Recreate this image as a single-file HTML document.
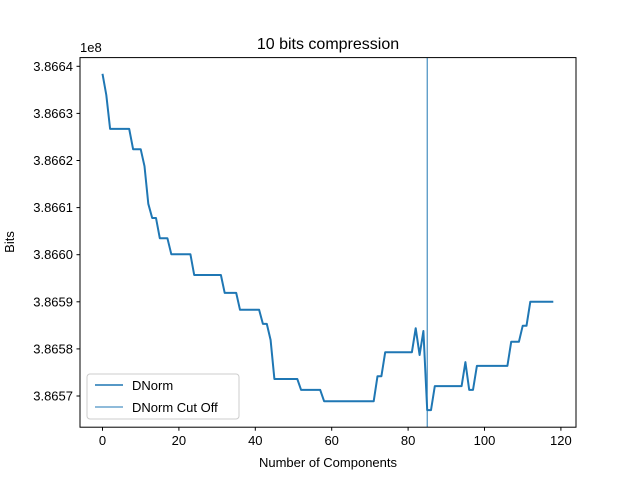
<!DOCTYPE html>
<html><head><meta charset="utf-8"><style>
body{margin:0;background:#fff;}
svg text{font-family:"Liberation Sans","DejaVu Sans",sans-serif;fill:#000;}
</style></head><body>
<svg width="640" height="480" xmlns="http://www.w3.org/2000/svg">
<rect width="640" height="480" fill="#fff"/>
<g id="grid"></g>
<g id="marks"></g>
<rect x="80" y="57.6" width="496" height="369.6" fill="none" stroke="#000" stroke-width="1"/>
<g id="axes"></g>
<text x="328" y="49" font-size="16" text-anchor="middle">10 bits compression</text>
<text x="328" y="467" font-size="13" text-anchor="middle">Number of Components</text>
<text transform="translate(14,242) rotate(-90)" font-size="13" text-anchor="middle">Bits</text>
<text x="80" y="52" font-size="13">1e8</text>
<g>
<rect x="87" y="374" width="152" height="45" rx="3" fill="#fff" fill-opacity="0.8" stroke="#ccc"/>
<line x1="95" y1="385" x2="123" y2="385" stroke="#1f77b4" stroke-width="1.5"/>
<text x="132" y="390" font-size="13">DNorm</text>
<line x1="95" y1="407" x2="123" y2="407" stroke="#1f77b4" stroke-width="1"/>
<text x="132" y="412" font-size="13">DNorm Cut Off</text>
</g>
</svg>
<script>
const xTicks=[0,20,40,60,80,100,120];
const yTicks=[3.8657,3.8658,3.8659,3.8660,3.8661,3.8662,3.8663,3.8664];
const yTickLabels=["3.8657","3.8658","3.8659","3.8660","3.8661","3.8662","3.8663","3.8664"];
const cutOff=85;
// values in units of 1e-4 above 3.8657 (x1e8)
const series=[6.84,6.39,5.67,5.67,5.67,5.67,5.67,5.67,5.24,5.24,5.24,4.88,4.08,3.78,3.78,3.35,3.35,3.35,3.01,3.01,3.01,3.01,3.01,3.01,2.57,2.57,2.57,2.57,2.57,2.57,2.57,2.57,2.19,2.19,2.19,2.19,1.83,1.83,1.83,1.83,1.83,1.83,1.53,1.53,1.19,0.36,0.36,0.36,0.36,0.36,0.36,0.36,0.13,0.13,0.13,0.13,0.13,0.13,-0.11,-0.11,-0.11,-0.11,-0.11,-0.11,-0.11,-0.11,-0.11,-0.11,-0.11,-0.11,-0.11,-0.11,0.42,0.42,0.93,0.93,0.93,0.93,0.93,0.93,0.93,0.93,1.44,0.87,1.38,-0.30,-0.30,0.21,0.21,0.21,0.21,0.21,0.21,0.21,0.21,0.72,0.13,0.13,0.64,0.64,0.64,0.64,0.64,0.64,0.64,0.64,0.64,1.15,1.15,1.15,1.49,1.49,2.00,2.00,2.00,2.00,2.00,2.00,2.00];
const NS="http://www.w3.org/2000/svg";
const xs=i=>102.5+i*3.82;
const ys=v=>396-(v-3.8657)*1e4*47.1;
const yk=k=>396-k*47.1;
const axes=document.getElementById('axes'),marks=document.getElementById('marks');
function mk(t,a,p){const e=document.createElementNS(NS,t);for(const k in a)e.setAttribute(k,a[k]);p.appendChild(e);return e;}
xTicks.forEach(t=>{const x=xs(t);
const l=mk('line',{x1:x,x2:x,y1:427.2,y2:430.7,stroke:'#000'},axes);


const tx=mk('text',{x:x,y:445,'font-size':10*1.3,'text-anchor':'middle'},axes);tx.textContent=t;

});
yTicks.forEach((t,i)=>{const y=ys(t);
const l=mk('line',{x1:76.5,x2:80,y1:y,y2:y,stroke:'#000'},axes);


const tx=mk('text',{x:73,y:y+4.5,'font-size':13,'text-anchor':'end'},axes);tx.textContent=yTickLabels[i];

});
const pts=series.map((v,i)=>xs(i).toFixed(1)+','+yk(v).toFixed(1)).join(' ');
const pl=mk('polyline',{points:pts,fill:'none',stroke:'#1f77b4','stroke-width':2,'stroke-linejoin':'round'},marks);


const cl=mk('line',{x1:xs(cutOff),x2:xs(cutOff),y1:57.6,y2:427.2,stroke:'#1f77b4','stroke-width':1},marks);


</script>
</body></html>
